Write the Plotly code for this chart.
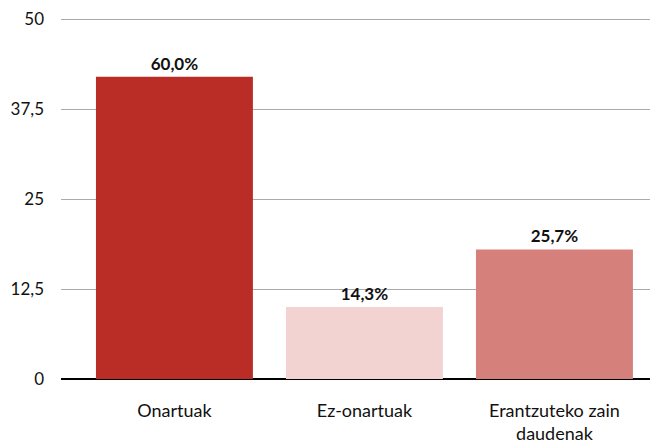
import plotly.graph_objects as go

categories = ["Onartuak", "Ez-onartuak", "Erantzuteko zain<br>daudenak"]
values = [42, 10, 18]
labels = ["60,0%", "14,3%", "25,7%"]
colors = ["#BA2D26", "#F2D3D2", "#D6807C"]
tick_vals = [0, 12.5, 25, 37.5, 50]
tick_text = ["0", "12,5", "25", "37,5", "50"]

fig = go.Figure(go.Bar(
    x=categories, y=values, text=labels, textposition="outside",
    marker=dict(color=colors, line=dict(width=0)),
    textfont=dict(family="Lato", size=17, color="#111111", weight="bold"),
    cliponaxis=False,
))
fig.update_layout(
    width=650, height=435,
    margin=dict(l=53, r=0, t=10, b=64, autoexpand=False),
    paper_bgcolor="white", plot_bgcolor="white",
    bargap=0.174, showlegend=False,
    font=dict(family="Lato", size=17, color="#111111"),
)
fig.update_xaxes(range=[-0.597, 2.545], showgrid=False, showline=False,
                 ticks="", tickfont=dict(size=18), ticklabelstandoff=19,
                 automargin=False)
fig.update_yaxes(range=[0, 50.15], tickvals=tick_vals, ticktext=tick_text,
                 showgrid=True, gridcolor="#AAAAAA", gridwidth=1,
                 zeroline=True, zerolinecolor="#000000", zerolinewidth=2,
                 showline=False, ticks="", ticklabelstandoff=16,
                 tickfont=dict(size=17), automargin=False)
fig.write_html("out.html")
